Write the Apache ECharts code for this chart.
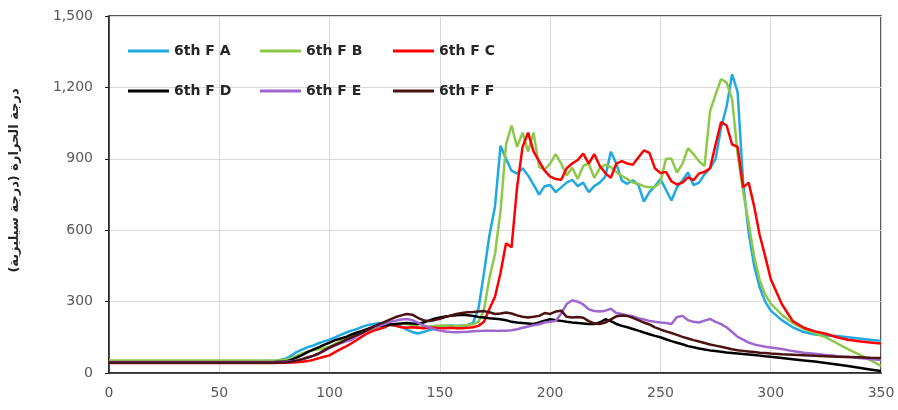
<!DOCTYPE html>
<html>
<head>
<meta charset="utf-8">
<script src="https://cdn.jsdelivr.net/npm/echarts@6/dist/echarts.min.js"></script>
<style>
html,body{margin:0;padding:0;background:#fff;}
#chart{width:898px;height:410px;}
</style>
</head>
<body>
<div id="chart"></div>
<script>
// x values (time)
const time = [0,10,20,30,40,50,60,70,75,
80,82.5,85,87.5,90,92.5,95,97.5,100,102.5,105,107.5,110,112.5,115,117.5,120,122.5,125,127.5,130,132.5,135,137.5,140,142.5,145,147.5,150,152.5,155,157.5,160,162.5,165,167.5,170,172.5,175,177.5,180,182.5,185,187.5,190,192.5,195,197.5,200,202.5,205,207.5,210,212.5,215,217.5,220,222.5,225,227.5,230,232.5,235,237.5,240,242.5,245,247.5,250,252.5,255,257.5,260,262.5,265,267.5,270,272.5,275,277.5,280,282.5,285,287.5,290,292.5,295,297.5,300,
305,310,315,320,325,330,335,340,345,350];

const seriesNames = ['6th F A','6th F B','6th F C','6th F D','6th F E','6th F F'];

const valuesA = [47,47,47,48,48,48,48,49,50,
60,72,88,98,108,115,125,133,140,150,160,170,178,185,195,202,206,210,206,200,198,195,182,172,166,172,180,185,192,198,200,198,200,202,210,270,420,580,700,955,900,850,838,860,830,790,750,785,790,760,780,800,812,785,800,760,785,800,825,930,880,808,795,810,790,720,760,785,815,770,725,780,810,842,790,800,835,860,900,1030,1120,1255,1180,800,590,450,360,300,262,
222,192,172,162,158,155,150,145,140,135];

const valuesB = [52,52,52,52,52,52,52,52,52,
56,62,72,82,90,95,100,105,110,122,135,148,158,168,175,182,188,192,195,200,206,208,206,200,195,192,195,198,200,200,198,198,200,202,205,215,265,400,500,680,960,1040,950,1010,930,1010,865,855,880,920,880,830,863,815,870,880,820,860,875,865,845,828,815,800,795,785,780,782,800,900,900,842,880,945,920,890,870,1100,1170,1235,1220,1150,920,760,630,490,390,330,292,
245,210,185,168,150,125,100,78,55,30];

const valuesC = [42,42,42,42,42,42,42,42,42,
43,44,45,47,50,55,62,68,74,88,100,112,125,140,155,168,178,185,192,205,198,192,190,192,190,188,190,190,188,188,190,188,188,190,192,198,215,270,320,420,545,528,780,950,1010,930,890,850,825,815,812,860,880,895,922,880,920,870,840,820,880,890,880,875,905,935,925,860,840,845,805,792,800,822,810,838,845,860,960,1054,1040,960,950,780,800,700,580,490,395,
290,218,190,175,165,150,140,133,128,124];

const valuesD = [45,45,45,45,45,45,45,45,46,
48,55,65,75,88,98,108,118,128,138,145,152,162,170,178,186,195,198,200,204,206,208,210,208,206,212,220,228,233,237,240,243,245,243,240,235,233,230,228,226,222,215,212,210,208,206,212,220,226,222,219,215,212,210,208,206,206,212,226,218,206,198,192,185,178,170,163,156,150,142,134,127,121,113,108,103,99,95,92,89,86,84,82,80,78,76,73,70,68,
63,58,53,48,42,36,29,22,15,8];

const valuesE = [46,46,46,46,46,46,46,46,46,
47,49,52,58,65,72,80,92,105,115,125,133,140,155,168,180,190,198,206,215,220,225,227,222,212,200,192,184,178,174,172,171,172,173,175,176,177,177,177,178,178,180,184,190,195,200,205,212,215,219,250,290,305,300,288,268,260,258,262,270,252,248,242,238,230,225,219,215,212,210,206,235,240,222,215,212,220,227,215,205,192,172,152,140,128,120,115,110,107,
101,92,85,81,76,71,67,63,59,55];

const valuesF = [44,44,44,44,44,44,44,44,44,
45,47,52,58,65,72,82,95,108,118,128,140,150,160,170,182,195,205,215,225,235,242,248,245,232,222,218,222,228,235,242,248,252,255,256,258,260,255,248,250,254,250,242,236,233,236,240,252,248,258,262,236,233,235,232,218,208,206,212,225,238,242,240,232,222,212,204,192,183,175,168,160,152,145,138,132,126,120,115,110,105,100,96,93,90,88,85,84,82,
79,77,75,72,70,68,67,66,64,63];

const xTicks = [0,50,100,150,200,250,300,350];
const yTicks = [0,300,600,900,1200,1500];
const yAxisTitle = 'درجة الحرارة (درجة سيليزية)';

const allValues = [valuesA, valuesB, valuesC, valuesD, valuesE, valuesF];
const colors = ['#1FA8E1', '#8DC848', '#FF0000', '#000000', '#A066D0', '#4A1212'];

const series = seriesNames.map((name, i) => ({
  name: name,
  type: 'line',
  data: time.map((t, k) => [t, allValues[i][k]]),
  showSymbol: false,
  symbol: 'none',
  lineStyle: { width: 2.5, color: colors[i] },
  itemStyle: { color: colors[i] },
  z: 2 + i
}));

// legends: 2 rows x 3 columns
const legendCols = [128, 260, 393];
const legendRows = [44, 84];
const legends = seriesNames.map((name, i) => ({
  data: [name],
  left: legendCols[i % 3],
  top: legendRows[Math.floor(i / 3)],
  padding: 0,
  itemWidth: 41,
  itemHeight: 3,
  itemGap: 0,
  icon: 'rect',
  selectedMode: false,
  textStyle: { fontFamily: 'DejaVu Sans', fontWeight: 'bold', fontSize: 14, color: '#262626', padding: [0,0,0,0] }
}));

const chart = echarts.init(document.getElementById('chart'), null, { renderer: 'canvas' });
chart.setOption({
  animation: false,
  backgroundColor: '#ffffff',
  legend: legends,
  grid: { left: 105, right: 17, top: 16, bottom: 37, show: true, borderColor: '#222', borderWidth: 1.5, backgroundColor: 'transparent' },
  xAxis: {
    type: 'value', min: xTicks[0], max: xTicks[xTicks.length - 1], interval: 50,
    axisLine: { show: true, lineStyle: { color: '#222', width: 1.5 } },
    axisTick: { show: false },
    splitLine: { show: true, lineStyle: { color: '#d9d9d9', width: 1 } },
    axisLabel: { color: '#595959', fontFamily: 'DejaVu Sans', fontSize: 14, margin: 13 }
  },
  yAxis: {
    type: 'value', min: yTicks[0], max: yTicks[yTicks.length - 1], interval: 300,
    name: yAxisTitle,
    nameLocation: 'middle',
    nameRotate: 90,
    nameGap: 88,
    nameTextStyle: { fontFamily: 'DejaVu Sans', fontWeight: 'bold', fontSize: 13, color: '#262626', padding: [0,0,0,28] },
    axisLine: { show: true, lineStyle: { color: '#222', width: 1.5 } },
    axisTick: { show: true, length: 4, lineStyle: { color: '#222' } },
    splitLine: { show: true, lineStyle: { color: '#d9d9d9', width: 1 } },
    axisLabel: { color: '#595959', fontFamily: 'DejaVu Sans', fontSize: 14, margin: 16,
      formatter: v => v.toLocaleString('en-US') }
  },
  series: series
});
</script>
</body>
</html>
